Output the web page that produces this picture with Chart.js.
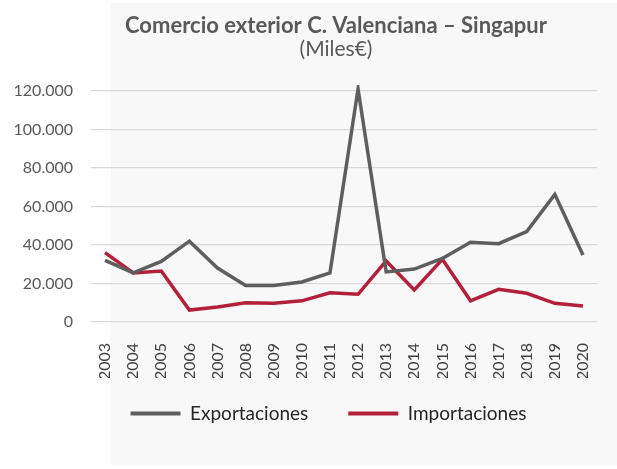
<!DOCTYPE html>
<html>
<head>
<meta charset="utf-8">
<script src="https://cdn.jsdelivr.net/npm/chart.js@4.4.0/dist/chart.umd.min.js"></script>
<style>
  body { margin: 0; background: #ffffff; }
  #wrap { position: relative; width: 617px; height: 469px; }
  #panel { position: absolute; left: 111px; top: 3px; width: 506px; height: 462px; background: #f8f8f8; }
  canvas { position: absolute; left: 0; top: 0; }
</style>
</head>
<body>
<div id="wrap">
  <div id="panel"></div>
  <canvas id="chart" width="617" height="469"></canvas>
</div>
<script>
// Data
const years = ["2003", "2004", "2005", "2006", "2007", "2008", "2009", "2010", "2011",
  "2012", "2013", "2014", "2015", "2016", "2017", "2018", "2019", "2020"];
const exportaciones = [32000, 25500, 31500, 42000, 28000, 19000, 19000, 20800, 25500,
  121000, 26000, 27500, 33000, 41400, 40700, 47000, 66300, 34800];
const importaciones = [36000, 25500, 26500, 6200, 7800, 10000, 9700, 11000, 15200,
  14400, 31700, 16600, 32600, 11000, 17000, 14900, 9700, 8300];
const yTicks = [0, 20000, 40000, 60000, 80000, 100000, 120000];

const titleText = "Comercio exterior C. Valenciana \u2013 Singapur";
const subtitleText = "(Miles\u20ac)";

const FONT = "Lato, 'Open Sans', sans-serif";

// Format numbers with dot as thousand separator
function fmt(v) {
  return String(v).replace(/\B(?=(\d{3})+(?!\d))/g, ".");
}

// Title drawn at a fixed spot, like the original
const titlePlugin = {
  id: "titleBlock",
  beforeLayout(chart) {
    // shrink the legend box so the padding only spaces the items sideways
    const lg = chart.legend;
    if (lg && !lg._patched) {
      const fit = lg.fit;
      lg.fit = function () {
        fit.call(this);
        this.height = 91;
      };
      lg._patched = true;
    }
  },
  afterLayout(chart) {
    const lg = chart.legend;
    lg.top -= 14;
    lg.bottom -= 14;
    lg.left += 50;
  },
  afterDraw(chart) {
    const c = chart.ctx;
    c.save();
    c.textAlign = "center";
    c.textBaseline = "alphabetic";
    c.fillStyle = "#595959";
    c.font = "bold 22px " + FONT;
    c.fillText(titleText, 336, 33);
    c.font = "21px " + FONT;
    c.fillText(subtitleText, 336, 56);
    c.restore();
  }
};

const ctx = document.getElementById("chart").getContext("2d");
const chart = new Chart(ctx, {
  type: "line",
  data: {
    labels: years,
    datasets: [
      {
        label: "Exportaciones",
        data: exportaciones,
        borderColor: "#5e5e5e",
        backgroundColor: "#5e5e5e",
        borderWidth: 3.5,
        pointRadius: 0,
        tension: 0,
        clip: 6,
      },
      {
        label: "Importaciones",
        data: importaciones,
        borderColor: "#b3203b",
        backgroundColor: "#b3203b",
        borderWidth: 3.5,
        pointRadius: 0,
        tension: 0,
        clip: 6,
      },
    ],
  },
  options: {
    responsive: false,
    animation: false,
    layout: {
      padding: { left: 10, right: 20, top: 91, bottom: 0 },
    },
    scales: {
      x: {
        offset: true,
        afterFit(axis) {
          axis.height = 56;
        },
        grid: { display: false },
        border: { display: false },
        ticks: {
          color: "#404040",
          font: { family: FONT, size: 16 },
          minRotation: 90,
          maxRotation: 90,
          padding: 13,
        },
      },
      y: {
        min: 0,
        max: 120000,
        afterBuildTicks(axis) {
          axis.ticks = yTicks.map((v) => ({ value: v }));
        },
        afterFit(axis) {
          axis.width = 81;
        },
        grid: { color: "#d9d9d9", lineWidth: 1.2, drawTicks: false },
        border: { display: false },
        ticks: {
          color: "#595959",
          font: { family: FONT, size: 16 },
          padding: 18,
          callback: (v) => fmt(v),
        },
      },
    },
    plugins: {
      title: { display: false },
      tooltip: { enabled: false },
      legend: {
        position: "bottom",
        labels: {
          color: "#262626",
          font: { family: FONT, size: 19 },
          boxWidth: 50,
          boxHeight: 4,
          padding: 40,
          generateLabels(chart) {
            const items = Chart.defaults.plugins.legend.labels.generateLabels(chart);
            items.forEach((it) => { it.lineWidth = 0; });
            return items;
          },
        },
      },
    },
  },
  plugins: [titlePlugin],
});
</script>
</body>
</html>
